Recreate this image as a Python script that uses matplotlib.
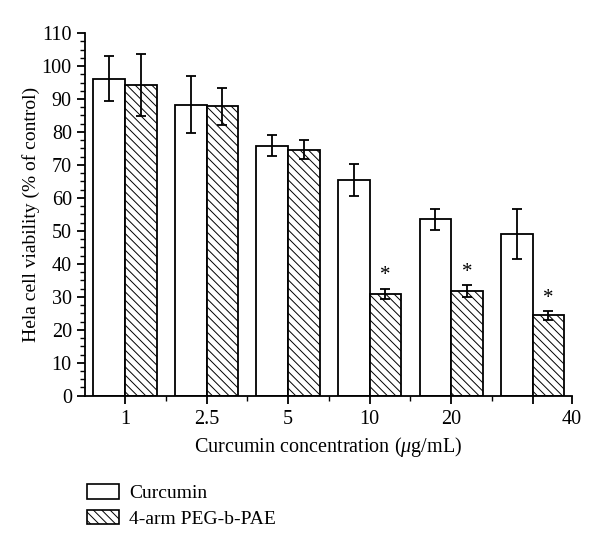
import matplotlib
matplotlib.use("Agg")
import matplotlib.pyplot as plt
import numpy as np
from matplotlib.patches import Patch

categories = ["1", "2.5", "5", "10", "20", "40"]
curcumin = [96.1, 88.3, 75.8, 65.4, 53.5, 49.0]
curcumin_err = [6.8, 8.6, 3.2, 4.8, 3.2, 7.5]
peg = [94.3, 87.8, 74.6, 30.9, 31.7, 24.4]
peg_err = [9.5, 5.6, 2.9, 1.6, 1.9, 1.3]
significant = [False, False, False, True, True, True]

plt.rcParams['font.family'] = ['Liberation Serif', 'DejaVu Serif']
plt.rcParams['hatch.color'] = '#666666'
plt.rcParams['hatch.linewidth'] = 0.7
plt.rcParams['mathtext.fontset'] = 'custom'
plt.rcParams['mathtext.it'] = 'Liberation Serif:italic'
plt.rcParams['mathtext.rm'] = 'Liberation Serif'

fig = plt.figure(figsize=(6.0, 5.51), dpi=100)
ax = fig.add_axes([0.1417, 0.2818, 0.953 - 0.1417, 0.940 - 0.2818])

x = np.arange(len(categories))
w = 0.387
ekw = dict(ecolor='black', elinewidth=1.3, capsize=3.5, capthick=1.3)
ax.bar(x - w / 2, curcumin, w, color='white', edgecolor='black', linewidth=1.3,
       yerr=curcumin_err, error_kw=ekw, zorder=2)
ax.bar(x + w / 2, peg, w, color='white', edgecolor='black', linewidth=1.3,
       hatch='\\\\\\\\', yerr=peg_err, error_kw=ekw, zorder=2)

for xi, v, e, s in zip(x, peg, peg_err, significant):
    if s:
        ax.text(xi + w / 2, v + e + 1.0, "*", ha='center', va='bottom', fontsize=15)

ax.set_ylim(0, 110)
ax.set_xlim(-0.49, 5.48)
ax.set_yticks(np.arange(0, 111, 10))
ax.set_yticks(np.arange(0, 110.1, 2.5), minor=True)
ax.set_xticks(list(x) + [5.48])
ax.set_xticklabels(categories[:-1] + ["", categories[-1]])
ax.set_xticks(x[:-1] + 0.5, minor=True)

for s in ['top', 'right']:
    ax.spines[s].set_visible(False)
for s in ['left', 'bottom']:
    ax.spines[s].set_linewidth(1.3)

ax.tick_params(axis='both', which='major', direction='out', length=5.5, width=1.3,
               labelsize=14.5, pad=4)
ax.tick_params(axis='both', which='minor', direction='out', length=3.5, width=1.0)
ax.tick_params(axis='x', which='major', pad=5)

ax.set_ylabel("Hela cell viability (% of control)", fontsize=14, labelpad=1)
ax.set_xlabel(r"Curcumin concentration ($\mathit{\mu}$g/mL)", fontsize=14.5, labelpad=4)

handles = [Patch(facecolor='white', edgecolor='black', linewidth=1.2, label='Curcumin'),
           Patch(facecolor='white', edgecolor='black', linewidth=1.2, hatch='\\\\\\\\',
                 label='4-arm PEG-b-PAE')]
fig.legend(handles=handles, loc='upper left', bbox_to_anchor=(0.145, 0.121),
           frameon=False, fontsize=14, handlelength=1.65, handleheight=0.75,
           labelspacing=0.38, handletextpad=0.5, borderaxespad=0, borderpad=0)

fig.savefig("out.png", dpi=100)
